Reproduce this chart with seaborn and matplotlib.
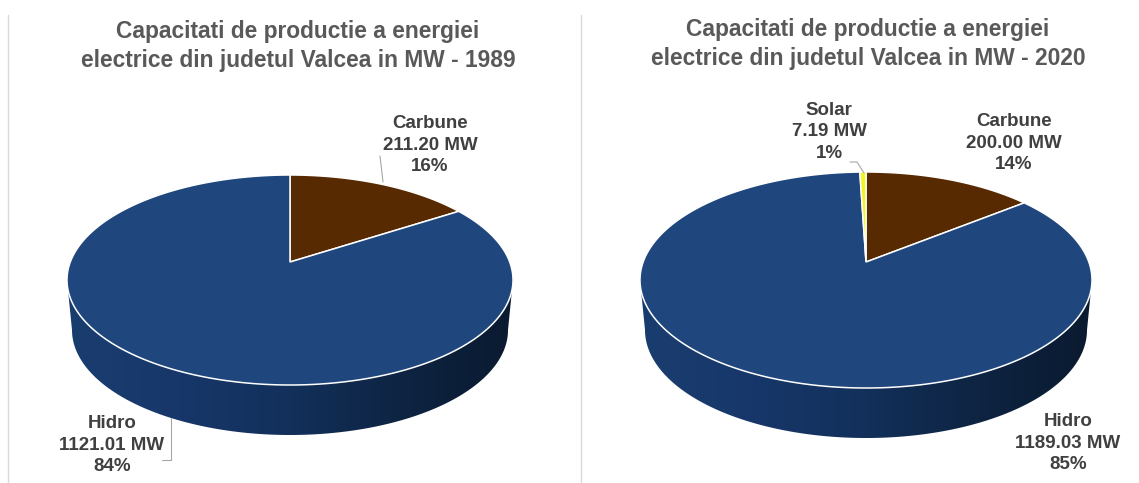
import numpy as np
import seaborn as sns
import matplotlib.pyplot as plt
from matplotlib.patches import PathPatch, Polygon
from matplotlib.path import Path
from matplotlib.transforms import Affine2D

sns.set_theme(style="white")
plt.rcParams['font.family'] = ['Liberation Sans', 'DejaVu Sans']

# data
names_1989 = ["Carbune", "Hidro"]
values_1989 = [211.20, 1121.01]
names_2020 = ["Carbune", "Hidro", "Solar"]
values_2020 = [200.00, 1189.03, 7.19]
title_1989 = "Capacitati de productie a energiei\nelectrice din judetul Valcea in MW - 1989"
title_2020 = "Capacitati de productie a energiei\nelectrice din judetul Valcea in MW - 2020"

colors = {"Carbune": "#582a02", "Hidro": "#1f477d", "Solar": "#f4f424"}
rim_cmap = sns.blend_palette(["#1a3d70", "#17376a", "#12305a", "#0e2442", "#0a1a30"], as_cmap=True)

W, H = 1139, 483


def warp(pts, apex, half_w, up, down):
    # perspective from the unit circle to the tilted pie top, in pixels
    k = (down - up) / (down + up)
    c = up * (1 + k)
    s = half_w * np.sqrt(1 - k ** 2)
    w = 1 + k * pts[:, 1]
    return np.column_stack([apex[0] + s * pts[:, 0] / w, apex[1] - c * pts[:, 1] / w])


def draw_pie(ax, names, values, apex, half_w, up, down, rim_bottom, label_pos):
    cy = apex[1] + (down - up) / 2
    b = (down + up) / 2

    # side of the pie
    t = np.linspace(0, np.pi, 200)
    top_edge = np.column_stack([apex[0] + half_w * np.cos(t), cy + b * np.sin(t)])
    low_w = half_w - 5
    low_edge = np.column_stack([apex[0] + low_w * np.cos(t), rim_bottom - b + b * np.sin(t)])
    rim = Polygon(np.vstack([top_edge[:1], low_edge, top_edge[-1:]]), closed=True,
                  transform=ax.transData, facecolor='none', edgecolor='none')
    ax.add_patch(rim)
    grad = np.linspace(0, 1, 256).reshape(1, -1)
    im = ax.imshow(grad, cmap=rim_cmap, aspect='auto', zorder=1,
                   extent=[apex[0] - half_w, apex[0] + half_w, rim_bottom, cy])
    im.set_clip_path(rim)

    # top of the pie
    wedges, _ = ax.pie(values, startangle=90, counterclock=False, normalize=True)
    for wedge, name in zip(wedges, names):
        scaled = wedge.get_path().transformed(Affine2D().scale(1000))
        poly = scaled.to_polygons()[0] / 1000
        ax.add_patch(PathPatch(Path(warp(poly, apex, half_w, up, down), closed=True),
                               facecolor=colors[name], edgecolor='white', lw=1.1, zorder=2))
        wedge.remove()

    total = sum(values)
    for name, value in zip(names, values):
        pct = value / total * 100
        x, y = label_pos[name]
        ax.text(x, y, f"{name}\n{value:.2f} MW\n{pct:.0f}%", ha='center', va='center',
                fontsize=13.5, fontweight='bold', color='#404040', linespacing=1.32, zorder=3)


fig = plt.figure(figsize=(W / 100, H / 100), dpi=100)
ax1 = fig.add_axes([0, 0, 570 / W, 1])
ax2 = fig.add_axes([570 / W, 0, 569 / W, 1])

draw_pie(ax1, names_1989, values_1989, (290, 262), 223, 87, 123, 435,
         {"Carbune": (430, 145), "Hidro": (112, 445)})
draw_pie(ax2, names_2020, values_2020, (866, 262), 226, 90, 126, 438,
         {"Carbune": (1014, 143), "Hidro": (1068, 443), "Solar": (829, 132)})

# leader lines
ax1.plot([380, 383], [156, 182], color='#a6a6a6', lw=0.8, zorder=1.5)
ax1.plot([171, 171, 162], [418, 460, 460], color='#a6a6a6', lw=0.8, zorder=1.5)
ax2.plot([850, 857, 864], [162, 162, 173], color='#a6a6a6', lw=0.8, zorder=3)

ax1.text(298, 46, title_1989, ha='center', va='center', fontsize=16.4, fontweight='bold',
         color='#595959', linespacing=1.38)
ax2.text(868, 44, title_2020, ha='center', va='center', fontsize=16.4, fontweight='bold',
         color='#595959', linespacing=1.3)

ax1.plot([8, 8], [15, H], color='#d9d9d9', lw=1)
ax2.plot([581, 581], [15, H], color='#d9d9d9', lw=1)

ax1.set(xlim=(0, 570), ylim=(H, 0), aspect='auto')
ax2.set(xlim=(570, 1139), ylim=(H, 0), aspect='auto')
for ax in (ax1, ax2):
    ax.axis('off')

plt.savefig("out.png", dpi=100)
plt.close()
